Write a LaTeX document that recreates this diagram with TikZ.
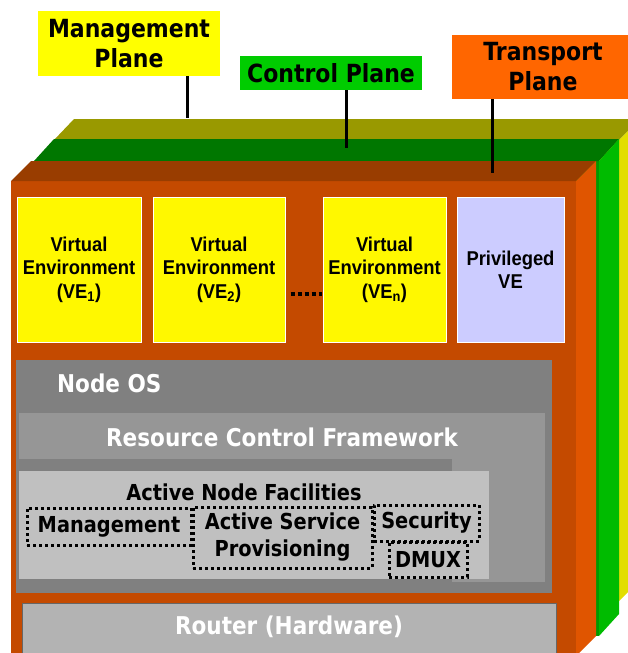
\documentclass[tikz,border=0pt]{standalone}
\usepackage{fontspec}
\setmainfont{DejaVu Sans}[FakeStretch=0.88]
\newfontfamily\arialfont{Liberation Sans}[FakeStretch=0.92]
\definecolor{olivetop}{HTML}{999900}
\definecolor{yellowside}{HTML}{E2DE00}
\definecolor{greentop}{HTML}{007700}
\definecolor{greenfront}{HTML}{009900}
\definecolor{greenside}{HTML}{00BB00}
\definecolor{orangetop}{HTML}{993D00}
\definecolor{orangefront}{HTML}{C44A00}
\definecolor{orangeside}{HTML}{E05500}
\definecolor{mgmtyellow}{HTML}{FFFF00}
\definecolor{ctrlgreen}{HTML}{00CC00}
\definecolor{transorange}{HTML}{FF6600}
\definecolor{veyellow}{HTML}{FFF800}
\definecolor{privblue}{HTML}{CCCCFF}
\definecolor{nodeosgray}{HTML}{808080}
\definecolor{rcfgray}{HTML}{969696}
\definecolor{anfgray}{HTML}{C0C0C0}
\definecolor{routergray}{HTML}{B3B3B3}
\tikzset{
  planelabel/.style={inner sep=0pt, align=center, font=\bfseries\fontsize{25}{30}\selectfont},
  vebox/.style={draw=white, line width=1pt, fill=veyellow, inner sep=0pt, minimum height=145pt, align=center, font=\arialfont\bfseries\fontsize{20}{23.5}\selectfont},
  layer/.style={inner sep=0pt},
  layertext/.style={inner sep=0pt, text=white, font=\bfseries\fontsize{24.5}{28}\selectfont},
  facility/.style={draw, line width=3pt, dash pattern=on 3pt off 3pt, inner sep=0pt, align=center, font=\bfseries\fontsize{22}{27}\selectfont},
  stem/.style={line width=3pt},
  vedots/.style={line width=4pt, dash pattern=on 4pt off 3pt},
}
\begin{document}
\begin{tikzpicture}[x=1pt,y=-1pt]
    \useasboundingbox (0,0) rectangle (628,653);
    \clip (0,0) rectangle (628,653);

    \fill[yellowside] (54,140) rectangle (619,601);
    \fill[olivetop] (54,140) -- (74,119) -- (640,119) -- (619,140) -- cycle;
    \fill[yellowside] (619,140) -- (640,119) -- (640,580) -- (619,601) -- cycle;
    \fill[greenfront] (34,161) rectangle (599,636);
    \fill[greentop] (34,161) -- (54,139) -- (619,139) -- (599,161) -- cycle;
    \fill[greenside] (599,161) -- (619,139) -- (619,614) -- (599,636) -- cycle;
    \fill[orangefront] (11,181) rectangle (576,670);
    \fill[orangetop] (11,181) -- (31,161) -- (596,161) -- (576,181) -- cycle;
    \fill[orangeside] (576,181) -- (596,161) -- (596,636) -- (576,656) -- cycle;

    \node[planelabel, fill=mgmtyellow, minimum width=182pt, minimum height=65pt] (mgmt) at (129,43.5) {Management\\Plane};
    \node[planelabel, fill=ctrlgreen, minimum width=182pt, minimum height=34pt] (ctrl) at (331,73) {Control Plane};
    \node[planelabel, fill=transorange, minimum width=182pt, minimum height=64pt] (trans) at (543,67) {Transport\\Plane};
    \coordinate (mgmtend) at (187,118);
    \coordinate (ctrlend) at (346,148);
    \coordinate (transend) at (492,173);
    \draw[stem] (mgmt.south -| mgmtend) -- (mgmtend);
    \draw[stem] (ctrl.south -| ctrlend) -- (ctrlend);
    \draw[stem] (trans.south -| transend) -- (transend);

    \node[vebox, minimum width=124pt] (ve1) at (79,269.5) {Virtual\\Environment\\(VE\textsubscript{1})};
    \node[vebox, minimum width=132pt] (ve2) at (219,269.5) {Virtual\\Environment\\(VE\textsubscript{2})};
    \node[vebox, minimum width=123pt] (ven) at (384.5,269.5) {Virtual\\Environment\\(VE\textsubscript{n})};
    \node[vebox, fill=privblue, minimum width=107pt] (priv) at (510.5,269.5) {Privileged\\VE};
    \draw[vedots] ([shift={(5,24)}]ve2.east) -- ([shift={(-1,24)}]ven.west);

    \node[layer, fill=nodeosgray, minimum width=536pt, minimum height=233pt] (nodeos) at (284,476.5) {};
    \node[layertext, anchor=west] (nodeostitle) at (57,383) {Node OS};
    \node[layer, fill=rcfgray, minimum width=526pt, minimum height=169pt] (rcf) at (282,497.5) {};
    \node[layertext] (rcftitle) at (282,437) {Resource Control Framework};
    \fill[nodeosgray] (19,459) rectangle (452,582);
    \node[layer, fill=anfgray, minimum width=470pt, minimum height=108pt] (anf) at (254,525) {};
    \node[layertext, text=black, font=\bfseries\fontsize{22}{24}\selectfont] (anftitle) at (244,492) {Active Node Facilities};
    \node[facility, minimum width=164pt, minimum height=37pt] (mgmtfac) at (109,526.5) {Management};
    \node[facility, minimum width=179pt, minimum height=61pt] (asp) at (282.5,537.5) {Active Service\\Provisioning};
    \node[facility, minimum width=105pt, minimum height=36pt] (sec) at (426.5,523) {Security};
    \node[facility, minimum width=78pt, minimum height=35pt] (dmux) at (428,559.5) {DMUX};

    \node[layer, draw=black!60, fill=routergray, minimum width=534pt, minimum height=54pt] (router) at (289,630) {};
    \node[layertext] (routertitle) at (289,627) {Router (Hardware)};
\end{tikzpicture}
\end{document}
